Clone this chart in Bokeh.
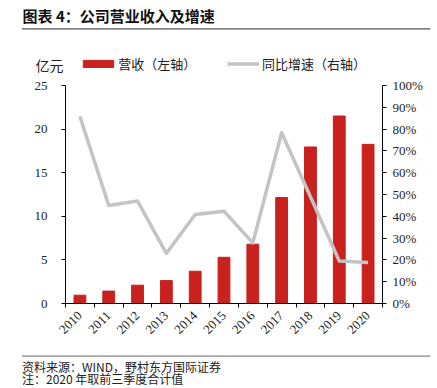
import math
from bokeh.plotting import figure
from bokeh.layouts import column
from bokeh.models import (Range1d, LinearAxis, FixedTicker, NumeralTickFormatter,
                          Label, Legend, LegendItem, Span, ColumnDataSource)
from bokeh.embed import file_html
from bokeh.resources import INLINE

# ---------------- data ----------------
years = ["2010", "2011", "2012", "2013", "2014", "2015", "2016", "2017", "2018", "2019", "2020"]
revenue = [0.95, 1.42, 2.1, 2.63, 3.7, 5.3, 6.8, 12.15, 17.95, 21.5, 18.25]   # 亿元
growth = [0.858, 0.45, 0.47, 0.23, 0.408, 0.423, 0.278, 0.783, 0.49, 0.195, 0.188]  # 同比
left_ticks = [0, 5, 10, 15, 20, 25]
right_ticks = [0, 0.1, 0.2, 0.3, 0.4, 0.5, 0.6, 0.7, 0.8, 0.9, 1.0]

title_text = "图表 4：公司营业收入及增速"
unit_text = "亿元"
bar_label = "营收（左轴）"
line_label = "同比增速（右轴）"
source_text = "资料来源：WIND，野村东方国际证券"
note_text = "注：2020 年取前三季度合计值"

# ---------------- styling ----------------
CJK = "Noto Sans CJK SC"
SERIF = "Liberation Serif"
RED = "#C9211E"
GREY = "#C4C4C4"
TXT = "#222222"

W = 437
HEAD_H = 77          # page y 0..77
MAIN_TOP, MAIN_BOT = 77, 350
FOOT_H = 388 - MAIN_BOT
RULE_L, RULE_R = 21, 430


def blank_fig(h, y0):
    f = figure(width=W, height=h, output_backend="svg", toolbar_location=None,
               x_axis_type=None, y_axis_type=None,
               x_range=Range1d(RULE_L, RULE_R), y_range=Range1d(y0 + h, y0),
               min_border_left=RULE_L, min_border_right=W - RULE_R,
               min_border_top=0, min_border_bottom=0)
    f.outline_line_color = None
    f.grid.visible = False
    return f


def add_text(f, text, px, py, size, bold=False, color=TXT):
    f.add_layout(Label(x=px, y=py, text=text, text_font=CJK, text_font_size=size,
                       text_font_style="bold" if bold else "normal",
                       text_color=color, text_align="left", text_baseline="middle"))


# ---------------- main chart ----------------
n = len(years)
centers = [i + 0.5 for i in range(n)]
src = ColumnDataSource(dict(x=centers, rev=revenue, g=growth))

FRAME_L, FRAME_R, FRAME_T, FRAME_B = 65, 382, 85, 303
p = figure(width=W, height=MAIN_BOT - MAIN_TOP, output_backend="svg", toolbar_location=None,
           x_range=Range1d(0, n), y_range=Range1d(left_ticks[0], left_ticks[-1]),
           min_border_left=FRAME_L, min_border_right=W - FRAME_R,
           min_border_top=FRAME_T - MAIN_TOP, min_border_bottom=MAIN_BOT - FRAME_B)
p.extra_y_ranges = {"pct": Range1d(right_ticks[0], right_ticks[-1])}
p.outline_line_color = None
p.grid.visible = False

bars = p.vbar(x="x", top="rev", width=0.41, source=src, fill_color=RED, line_color=RED)
line = p.line(x="x", y="g", source=src, y_range_name="pct", line_color=GREY, line_width=3.5,
              line_join="round")

xa = p.xaxis[0]
xa.ticker = FixedTicker(ticks=centers, minor_ticks=list(range(n + 1)))
xa.major_label_overrides = {c: y for c, y in zip(centers, years)}
xa.major_tick_out = 0
xa.major_tick_in = 0
xa.minor_tick_out = 4
xa.minor_tick_in = 0
xa.minor_tick_line_color = "black"
xa.major_label_orientation = math.pi / 4
xa.major_label_standoff = 6

ya = p.yaxis[0]
ya.ticker = FixedTicker(ticks=left_ticks)
ya.major_tick_out = 4
ya.major_tick_in = 0
ya.minor_tick_line_color = None
ya.major_label_standoff = 14

ra = LinearAxis(y_range_name="pct", ticker=FixedTicker(ticks=right_ticks),
                formatter=NumeralTickFormatter(format="0%"))
ra.major_tick_out = 4
ra.major_tick_in = 0
ra.minor_tick_line_color = None
ra.major_label_standoff = 6
p.add_layout(ra, "right")

for ax in (xa, ya, ra):
    ax.axis_line_color = "black"
    ax.axis_line_width = 1
    ax.major_tick_line_color = "black"
    ax.major_label_text_font = SERIF
    ax.major_label_text_font_size = "13px"
    ax.major_label_text_color = TXT

# ---------------- header: title, rule, legend ----------------
head = blank_fig(HEAD_H, 0)
add_text(head, title_text, 22, 15, "15px", bold=True, color="#111111")
head.add_layout(Span(location=28.3, dimension="width", line_color="#555555", line_width=1.3))
add_text(head, unit_text, 35, 64, "14px")

# legend keys styled like the chart's renderers (no visible data of their own)
nan = float("nan")
key_bar = head.vbar(x=[nan], top=[nan], width=1, fill_color=RED, line_color=RED)
key_line = head.line(x=[nan], y=[nan], line_color=GREY, line_width=3.5)

common = dict(orientation="horizontal", glyph_height=9, padding=0, margin=0,
              border_line_color=None, background_fill_alpha=0,
              label_text_font=CJK, label_text_font_size="13px", label_text_color=TXT,
              label_height=18)
# location = bottom-left of the legend box, relative to frame bottom-left
leg1 = Legend(items=[LegendItem(label=bar_label, renderers=[key_bar])],
              location=(83 - 3.8 - RULE_L, HEAD_H - 73), glyph_width=38, label_standoff=1,
              **common)
leg2 = Legend(items=[LegendItem(label=line_label, renderers=[key_line])],
              location=(227 - RULE_L, HEAD_H - 73), glyph_width=32, label_standoff=3,
              **common)
head.add_layout(leg1, "center")
head.add_layout(leg2, "center")

# ---------------- footer: rule and notes ----------------
foot = blank_fig(FOOT_H, MAIN_BOT)
foot.add_layout(Span(location=355.7, dimension="width", line_color="#888888", line_width=1.3))
add_text(foot, source_text, 21.5, 365.5, "12px")
add_text(foot, note_text, 21.5, 377.5, "12px")

layout = column(column(head), p, column(foot), spacing=0)
open("out.html", "w").write(file_html(layout, INLINE))
